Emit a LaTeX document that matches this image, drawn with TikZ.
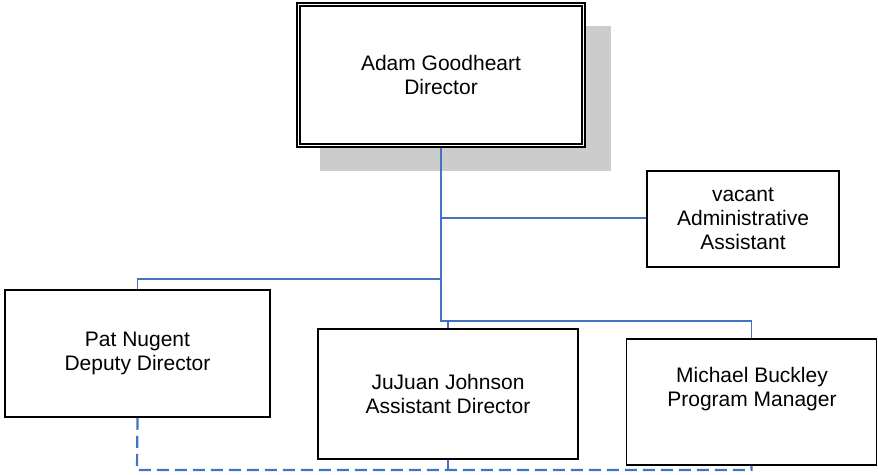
\documentclass[tikz,border=0pt]{standalone}
\usepackage{fontspec}
\setmainfont{Liberation Sans}
\usetikzlibrary{calc}
\definecolor{linkblue}{RGB}{68,114,196}
\definecolor{shadowgray}{RGB}{204,204,204}
\tikzset{
  box/.style={draw=black, line width=1.6pt, fill=white, inner sep=0pt, align=center,
    font=\fontsize{21}{24}\selectfont},
  conn/.style={draw=linkblue, line width=1.5pt},
  dconn/.style={draw=linkblue, line width=2.2pt, dash pattern=on 12pt off 6pt},
  lbl/.style={inner sep=0pt, align=center, font=\fontsize{21}{24}\selectfont}
}
\begin{document}
\begin{tikzpicture}[x=1pt,y=-1pt]
\useasboundingbox (0,0) rectangle (878,474);
% shadow of top box
\fill[shadowgray] (320,26) rectangle (611,171);
% top box
\node[box, line width=1.8pt, minimum width=288pt, minimum height=144pt] (dir) at (441,75) {Adam Goodheart\\Director};
\draw[line width=1.8pt] ($(dir.north west)+(4,4)$) rectangle ($(dir.south east)+(-4,-4)$);
% other boxes
\node[box, minimum width=192pt, minimum height=96pt] (vac) at (743,219) {vacant\\Administrative\\Assistant};
\node[box, minimum width=265pt, minimum height=127pt] (pat) at (137.5,353.5) {Pat Nugent\\Deputy Director};
\node[box, minimum width=260pt, minimum height=130pt] (jj) at (448,394) {JuJuan Johnson\\Assistant Director};
\node[box, minimum width=250pt, minimum height=126pt] (mb) at (751.5,402) {};
\node[lbl] (mbt) at (752,389) {Michael Buckley\\Program Manager};
% junction coordinates
\coordinate (jv) at (441,218);
\coordinate (jp) at (441,279);
\coordinate (jm) at (441,321);
% solid connectors
\draw[conn] (dir.south -| jm) -- (jm) -| (mb.north);
\draw[conn] (jv) -- (jv -| vac.west);
\draw[conn] (jp) -| (pat.north);
\draw[conn] (jm -| jj.north) -- (jj.north);
% dashed connectors
\coordinate (dl) at (137,470);
\draw[dconn] (pat.south) -- (dl) -- (dl -| mb.south) -- (mb.south);
\draw[conn] (jj.south) -- (jj.south |- dl);
\end{tikzpicture}
\end{document}
